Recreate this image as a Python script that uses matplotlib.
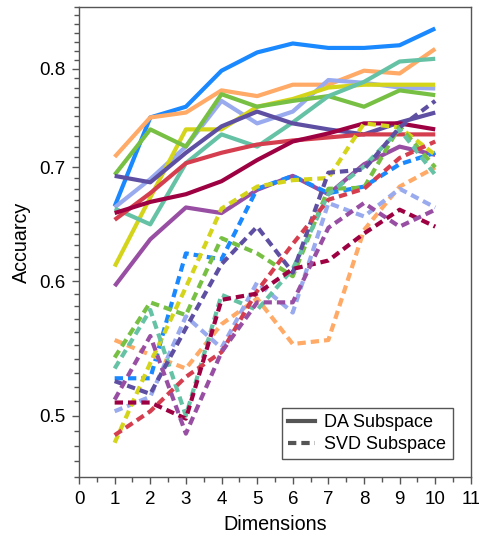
import numpy as np
import matplotlib
matplotlib.use("Agg")
import matplotlib.pyplot as plt
from matplotlib.ticker import FixedLocator, FuncFormatter, NullFormatter, MultipleLocator
from matplotlib.lines import Line2D

plt.rcParams['font.family'] = ['Liberation Sans', 'DejaVu Sans']

dims = [1, 2, 3, 4, 5, 6, 7, 8, 9, 10]

colors = ["#1a88ff", "#ffaa66", "#99aaee", "#d4d41a", "#77c044",
          "#66c2a5", "#5e4fa2", "#d53e4f", "#9e0142", "#984ea3"]

# accuracy with the DA subspace (solid)
da_blue = [0.664, 0.749, 0.760, 0.798, 0.818, 0.828, 0.823, 0.823, 0.826, 0.845]
da_orange = [0.710, 0.749, 0.754, 0.777, 0.771, 0.783, 0.783, 0.798, 0.795, 0.822]
da_periwinkle = [0.663, 0.689, 0.720, 0.766, 0.743, 0.755, 0.788, 0.785, 0.780, 0.779]
da_yellow = [0.612, 0.672, 0.737, 0.737, 0.760, 0.768, 0.780, 0.783, 0.783, 0.783]
da_green = [0.693, 0.737, 0.720, 0.773, 0.760, 0.766, 0.771, 0.760, 0.777, 0.772]
da_teal = [0.662, 0.648, 0.704, 0.732, 0.720, 0.744, 0.771, 0.786, 0.808, 0.811]
da_indigo = [0.692, 0.686, 0.714, 0.740, 0.755, 0.743, 0.737, 0.732, 0.744, 0.754]
da_red = [0.652, 0.676, 0.704, 0.714, 0.722, 0.726, 0.729, 0.732, 0.732, 0.732]
da_maroon = [0.658, 0.668, 0.675, 0.687, 0.707, 0.725, 0.733, 0.743, 0.743, 0.737]
da_purple = [0.596, 0.635, 0.663, 0.658, 0.679, 0.692, 0.675, 0.703, 0.720, 0.712]

# accuracy with the SVD subspace (dashed)
svd_blue = [0.526, 0.526, 0.623, 0.618, 0.680, 0.692, 0.676, 0.682, 0.703, 0.714]
svd_orange = [0.554, 0.543, 0.533, 0.566, 0.586, 0.551, 0.554, 0.643, 0.682, 0.700]
svd_periwinkle = [0.503, 0.513, 0.572, 0.548, 0.599, 0.575, 0.667, 0.655, 0.680, 0.663]
svd_yellow = [0.482, 0.537, 0.595, 0.662, 0.682, 0.688, 0.690, 0.743, 0.739, 0.712]
svd_green = [0.541, 0.583, 0.573, 0.636, 0.623, 0.604, 0.680, 0.681, 0.740, 0.700]
svd_teal = [0.533, 0.577, 0.500, 0.589, 0.577, 0.610, 0.675, 0.701, 0.737, 0.693]
svd_indigo = [0.524, 0.515, 0.563, 0.614, 0.646, 0.607, 0.695, 0.698, 0.739, 0.766]
svd_red = [0.487, 0.503, 0.527, 0.545, 0.592, 0.631, 0.670, 0.680, 0.709, 0.725]
svd_maroon = [0.509, 0.509, 0.498, 0.585, 0.590, 0.610, 0.617, 0.640, 0.661, 0.646]
svd_purple = [0.511, 0.557, 0.488, 0.545, 0.583, 0.583, 0.645, 0.667, 0.646, 0.661]

da = [da_blue, da_orange, da_periwinkle, da_yellow, da_green,
      da_teal, da_indigo, da_red, da_maroon, da_purple]
svd = [svd_blue, svd_orange, svd_periwinkle, svd_yellow, svd_green,
       svd_teal, svd_indigo, svd_red, svd_maroon, svd_purple]

fig = plt.figure(figsize=(4.79, 5.35), dpi=100)
ax = fig.add_axes([0.165, 0.108, 0.818, 0.879])

lw = 3.0
dash = (0, (2.0, 1.2))
for c, y in zip(colors, da):
    ax.plot(dims, y, color=c, lw=lw, solid_capstyle="butt")
for c, y in zip(colors, svd):
    ax.plot(dims, y, color=c, lw=lw, linestyle=dash)

ax.set_yscale("log")
ax.set_ylim(0.46, 0.87)
ax.set_xlim(0, 11)

ax.yaxis.set_major_locator(FixedLocator([0.5, 0.6, 0.7, 0.8]))
ax.yaxis.set_major_formatter(FuncFormatter(lambda v, p: "%.1f" % v))
ax.yaxis.set_minor_locator(FixedLocator(np.arange(0.46, 0.875, 0.01)))
ax.yaxis.set_minor_formatter(NullFormatter())
ax.xaxis.set_major_locator(MultipleLocator(1))
ax.xaxis.set_minor_locator(MultipleLocator(0.5))

for s in ax.spines.values():
    s.set_color("#555555")
    s.set_linewidth(1.0)
ax.tick_params(which="both", direction="out", color="#555555", labelsize=13.5, top=False, right=False)
ax.tick_params(which="major", length=5, width=1.0, pad=5)
ax.tick_params(which="minor", length=3.5, width=1.0)

ax.set_xlabel("Dimensions", fontsize=14.2, labelpad=5)
ax.set_ylabel("Accuarcy", fontsize=14.2, labelpad=6)

handles = [Line2D([], [], color="#555555", lw=lw),
           Line2D([], [], color="#555555", lw=lw, linestyle=dash)]
leg = ax.legend(handles, ["DA Subspace", "SVD Subspace"], loc="lower right",
                fontsize=13, fancybox=False, framealpha=1, edgecolor="#555555",
                handlelength=1.5, handletextpad=0.5, borderaxespad=1.0,
                borderpad=0.35, labelspacing=0.25)
leg.get_frame().set_linewidth(1.0)

fig.savefig("out.png", dpi=100)
